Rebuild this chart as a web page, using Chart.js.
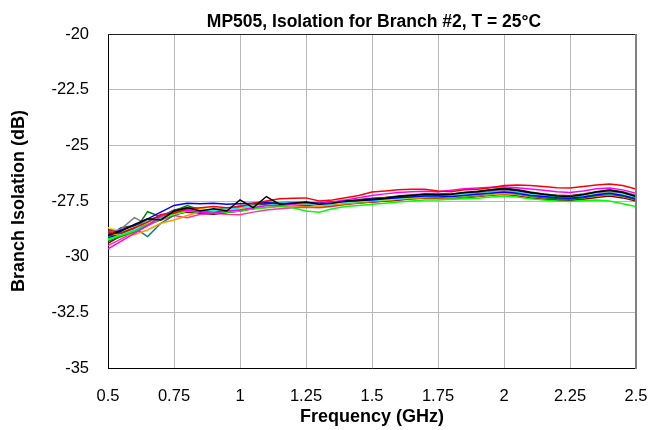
<!DOCTYPE html>
<html>
<head>
<meta charset="utf-8">
<script src="https://cdn.jsdelivr.net/npm/chart.js@4/dist/chart.umd.min.js"></script>
<style>
html,body{margin:0;padding:0;background:#fff;}
#wrap{width:649px;height:430px;}
</style>
</head>
<body>
<div id="wrap"><canvas id="c" width="649" height="430"></canvas></div>
<script>
const chartTitle = "MP505, Isolation for Branch #2, T = 25°C";
const xAxisTitle = "Frequency (GHz)";
const yAxisTitle = "Branch Isolation (dB)";
const xTickLabels = ["0.5","0.75","1","1.25","1.5","1.75","2","2.25","2.5"];
const yTickLabels = ["-35","-32.5","-30","-27.5","-25","-22.5","-20"];

const freqs = [0.50,0.55,0.60,0.65,0.70,0.75,0.80,0.85,0.90,0.95,1.00,1.05,1.10,1.15,1.20,1.25,1.30,1.35,1.40,1.45,1.50,1.55,1.60,1.65,1.70,1.75,1.80,1.85,1.90,1.95,2.00,2.05,2.10,2.15,2.20,2.25,2.30,2.35,2.40,2.45,2.50];

const s1 = [-29.05,-28.85,-28.55,-28.30,-28.35,-27.95,-27.80,-27.95,-27.85,-27.95,-27.45,-27.80,-27.30,-27.65,-27.60,-27.55,-27.65,-27.60,-27.50,-27.48,-27.42,-27.38,-27.30,-27.25,-27.20,-27.22,-27.20,-27.12,-27.08,-27.00,-26.95,-27.02,-27.12,-27.20,-27.28,-27.30,-27.22,-27.10,-27.02,-27.12,-27.30];
const s2 = [-28.90,-28.95,-28.70,-28.45,-28.10,-28.05,-27.85,-27.80,-27.75,-27.80,-27.75,-27.60,-27.50,-27.40,-27.38,-27.36,-27.50,-27.45,-27.35,-27.25,-27.10,-27.05,-27.00,-26.97,-26.97,-27.05,-27.08,-27.00,-26.97,-26.90,-26.80,-26.78,-26.80,-26.85,-26.90,-26.92,-26.85,-26.78,-26.74,-26.80,-26.96];
const s3 = [-29.65,-29.30,-28.95,-28.60,-28.20,-27.95,-27.90,-28.00,-28.05,-27.95,-27.90,-27.80,-27.70,-27.70,-27.65,-27.60,-27.62,-27.55,-27.45,-27.35,-27.25,-27.18,-27.12,-27.08,-27.06,-27.08,-27.02,-26.95,-26.92,-26.88,-26.86,-26.90,-26.96,-27.02,-27.08,-27.12,-27.05,-26.95,-26.92,-27.00,-27.15];
const s4 = [-29.20,-29.05,-28.85,-28.55,-28.30,-28.05,-27.95,-28.00,-28.05,-28.00,-27.95,-27.85,-27.80,-27.75,-27.80,-27.95,-28.00,-27.85,-27.75,-27.70,-27.65,-27.60,-27.55,-27.50,-27.45,-27.45,-27.42,-27.40,-27.38,-27.32,-27.28,-27.32,-27.40,-27.45,-27.50,-27.52,-27.48,-27.45,-27.50,-27.62,-27.75];
const s5 = [-29.00,-28.80,-28.60,-28.30,-28.00,-27.70,-27.60,-27.62,-27.60,-27.65,-27.62,-27.60,-27.58,-27.62,-27.60,-27.58,-27.60,-27.55,-27.52,-27.48,-27.45,-27.40,-27.35,-27.32,-27.28,-27.28,-27.30,-27.25,-27.20,-27.15,-27.10,-27.15,-27.25,-27.30,-27.35,-27.38,-27.32,-27.22,-27.15,-27.25,-27.40];
const s6 = [-29.25,-29.00,-28.80,-28.40,-28.25,-28.05,-27.85,-27.90,-27.95,-27.85,-27.80,-27.70,-27.72,-27.60,-27.55,-27.62,-27.70,-27.62,-27.55,-27.52,-27.48,-27.42,-27.38,-27.32,-27.28,-27.30,-27.28,-27.22,-27.18,-27.12,-27.08,-27.12,-27.22,-27.28,-27.32,-27.35,-27.30,-27.20,-27.15,-27.22,-27.38];
const s7 = [-28.70,-28.85,-28.65,-28.50,-28.30,-28.10,-27.95,-27.85,-27.90,-27.92,-27.85,-27.78,-27.72,-27.68,-27.66,-27.62,-27.68,-27.62,-27.58,-27.52,-27.48,-27.45,-27.40,-27.35,-27.30,-27.28,-27.32,-27.28,-27.22,-27.18,-27.12,-27.15,-27.25,-27.30,-27.32,-27.30,-27.25,-27.18,-27.15,-27.20,-27.35];
const s8 = [-29.30,-29.10,-28.85,-27.98,-28.20,-27.95,-27.70,-27.90,-28.00,-27.95,-27.90,-27.70,-27.55,-27.60,-27.65,-27.70,-27.68,-27.62,-27.58,-27.55,-27.50,-27.45,-27.40,-27.35,-27.30,-27.32,-27.35,-27.30,-27.25,-27.18,-27.12,-27.18,-27.28,-27.35,-27.40,-27.42,-27.35,-27.25,-27.20,-27.28,-27.45];
const s9 = [-28.95,-29.05,-29.00,-28.80,-28.50,-28.35,-28.15,-28.00,-27.98,-27.95,-27.88,-27.80,-27.75,-27.72,-27.70,-27.72,-27.75,-27.68,-27.62,-27.58,-27.52,-27.48,-27.42,-27.38,-27.35,-27.35,-27.38,-27.32,-27.28,-27.22,-27.18,-27.22,-27.30,-27.35,-27.38,-27.40,-27.35,-27.28,-27.22,-27.30,-27.45];
const s10 = [-29.00,-28.75,-28.25,-28.55,-28.35,-28.00,-27.85,-27.95,-27.90,-27.85,-27.70,-27.72,-27.68,-27.62,-27.60,-27.58,-27.62,-27.58,-27.52,-27.48,-27.42,-27.38,-27.32,-27.28,-27.24,-27.22,-27.24,-27.18,-27.12,-27.08,-27.02,-27.08,-27.18,-27.24,-27.28,-27.30,-27.24,-27.14,-27.08,-27.15,-27.32];
const s11 = [-29.10,-28.90,-28.70,-29.10,-28.50,-28.15,-27.95,-28.00,-27.95,-27.90,-27.85,-27.78,-27.72,-27.66,-27.64,-27.64,-27.68,-27.62,-27.56,-27.50,-27.46,-27.40,-27.36,-27.30,-27.26,-27.26,-27.28,-27.22,-27.16,-27.12,-27.06,-27.12,-27.22,-27.28,-27.32,-27.34,-27.28,-27.18,-27.12,-27.20,-27.36];
const s12 = [-28.80,-28.80,-28.70,-28.45,-28.25,-28.00,-27.92,-27.98,-28.00,-27.92,-27.88,-27.76,-27.70,-27.66,-27.60,-27.62,-27.66,-27.60,-27.55,-27.50,-27.44,-27.40,-27.34,-27.30,-27.26,-27.24,-27.26,-27.20,-27.14,-27.08,-27.04,-27.10,-27.20,-27.26,-27.30,-27.32,-27.26,-27.16,-27.10,-27.18,-27.34];
const s13 = [-29.40,-29.05,-28.85,-28.55,-28.30,-28.10,-28.00,-28.05,-28.10,-28.02,-27.95,-27.85,-27.78,-27.72,-27.70,-27.72,-27.76,-27.70,-27.64,-27.58,-27.54,-27.50,-27.46,-27.40,-27.36,-27.38,-27.40,-27.36,-27.30,-27.24,-27.20,-27.26,-27.36,-27.42,-27.46,-27.48,-27.42,-27.34,-27.28,-27.36,-27.50];
const s14 = [-29.15,-28.95,-28.70,-28.45,-28.20,-27.95,-27.85,-27.90,-27.92,-27.88,-27.82,-27.72,-27.66,-27.62,-27.58,-27.58,-27.62,-27.58,-27.52,-27.46,-27.40,-27.36,-27.30,-27.26,-27.22,-27.22,-27.24,-27.18,-27.12,-27.06,-27.00,-27.06,-27.16,-27.22,-27.26,-27.28,-27.22,-27.12,-27.06,-27.14,-27.30];
const s15 = [-29.50,-29.20,-28.90,-28.60,-28.35,-28.15,-28.25,-28.10,-28.05,-28.10,-28.12,-28.00,-27.90,-27.85,-27.80,-27.78,-27.80,-27.75,-27.66,-27.60,-27.55,-27.50,-27.45,-27.40,-27.36,-27.36,-27.38,-27.32,-27.26,-27.20,-27.16,-27.20,-27.30,-27.36,-27.40,-27.42,-27.36,-27.28,-27.22,-27.30,-27.46];
const s16 = [-28.85,-28.90,-28.60,-28.40,-28.15,-27.95,-27.88,-27.92,-27.88,-27.82,-27.78,-27.70,-27.64,-27.60,-27.56,-27.56,-27.60,-27.55,-27.50,-27.44,-27.40,-27.34,-27.30,-27.24,-27.20,-27.20,-27.22,-27.16,-27.10,-27.04,-26.98,-27.04,-27.14,-27.20,-27.24,-27.26,-27.20,-27.10,-27.04,-27.12,-27.28];
const s17 = [-29.05,-28.70,-28.60,-28.35,-28.20,-27.90,-27.80,-27.85,-27.95,-27.90,-27.78,-27.68,-27.62,-27.58,-27.56,-27.60,-27.64,-27.58,-27.50,-27.44,-27.38,-27.34,-27.28,-27.22,-27.18,-27.16,-27.18,-27.12,-27.06,-27.00,-26.92,-26.98,-27.10,-27.18,-27.24,-27.26,-27.18,-27.08,-27.00,-27.08,-27.25];
const s18 = [-29.20,-29.00,-28.75,-28.50,-28.25,-28.00,-27.90,-27.95,-27.98,-27.92,-27.86,-27.76,-27.70,-27.66,-27.64,-27.66,-27.72,-27.66,-27.60,-27.54,-27.50,-27.45,-27.40,-27.36,-27.32,-27.32,-27.34,-27.28,-27.22,-27.16,-27.12,-27.18,-27.28,-27.34,-27.38,-27.40,-27.34,-27.24,-27.18,-27.26,-27.42];

const seriesList = [s1,s2,s3,s4,s5,s6,s7,s8,s9,s10,s11,s12,s13,s14,s15,s16,s17,s18];
const seriesColors = ["#000000","#ff0000","#ff00ff","#00ff00","#0000ff","#00ffff","#e6e600","#008000","#ff9900","#808080","#008080","#800080","#800000","#000080","#ff3399","#808000","#404040","#3399ff"];

const FONT = "'Liberation Sans', Arial, sans-serif";

const framePlugin = {
  id: 'frame',
  afterDraw(chart) {
    const ctx = chart.ctx;
    const a = chart.chartArea;
    ctx.save();
    ctx.strokeStyle = '#202020';
    ctx.lineWidth = 1;
    ctx.beginPath();
    ctx.moveTo(a.left, a.top + 0.5);
    ctx.lineTo(a.right, a.top + 0.5);
    ctx.stroke();
    ctx.strokeStyle = '#808080';
    ctx.lineWidth = 2;
    ctx.beginPath();
    ctx.moveTo(a.right, a.top);
    ctx.lineTo(a.right, a.bottom + 1);
    ctx.stroke();
    ctx.fillStyle = '#000';
    ctx.font = "bold 17.5px " + FONT;
    ctx.textAlign = 'center';
    ctx.textBaseline = 'alphabetic';
    ctx.fillText(chartTitle, (a.left + a.right) / 2 + 2, 27);
    ctx.restore();
  }
};

new Chart(document.getElementById('c'), {
  type: 'line',
  data: {
    datasets: seriesList.map((s, k) => ({
      label: 'Part ' + (k + 1),
      data: s.map((v, i) => ({x: freqs[i], y: v})),
      borderColor: seriesColors[k],
      backgroundColor: seriesColors[k],
      borderWidth: 1.5,
      pointRadius: 0,
      tension: 0,
      fill: false
    }))
  },
  options: {
    responsive: false,
    animation: false,
    layout: { padding: { top: 34, right: 13, left: 0, bottom: 0 } },
    plugins: { legend: { display: false }, tooltip: { enabled: false }, title: { display: false } },
    scales: {
      x: {
        type: 'linear',
        min: 0.5, max: 2.5,
        afterFit(scale) { scale.height = 62; scale.paddingLeft = 0; scale.paddingRight = 0; },
        ticks: {
          stepSize: 0.25,
          padding: 19,
          color: '#000',
          font: { family: FONT, size: 16.5 },
          callback: (v, i) => xTickLabels[i],
          maxRotation: 0, autoSkip: false
        },
        grid: { color: '#b8b8b8', lineWidth: 1, drawTicks: false },
        border: { color: '#000', width: 1 },
        title: {
          display: true, text: xAxisTitle, color: '#000',
          font: { family: FONT, size: 18, weight: 'bold' },
          padding: { top: 0, bottom: 2 }
        }
      },
      y: {
        type: 'linear',
        min: -35, max: -20,
        afterFit(scale) { scale.width = 108; scale.paddingTop = 0; scale.paddingBottom = 0; },
        ticks: {
          stepSize: 2.5,
          padding: 19,
          color: '#000',
          font: { family: FONT, size: 16.5 },
          callback: (v, i) => yTickLabels[i]
        },
        grid: { color: '#b8b8b8', lineWidth: 1, drawTicks: false },
        border: { color: '#000', width: 1 },
        title: {
          display: true, text: yAxisTitle, color: '#000',
          font: { family: FONT, size: 18, weight: 'bold' },
          padding: { top: 8, bottom: 0 }
        }
      }
    }
  },
  plugins: [framePlugin]
});
</script>
</body>
</html>
